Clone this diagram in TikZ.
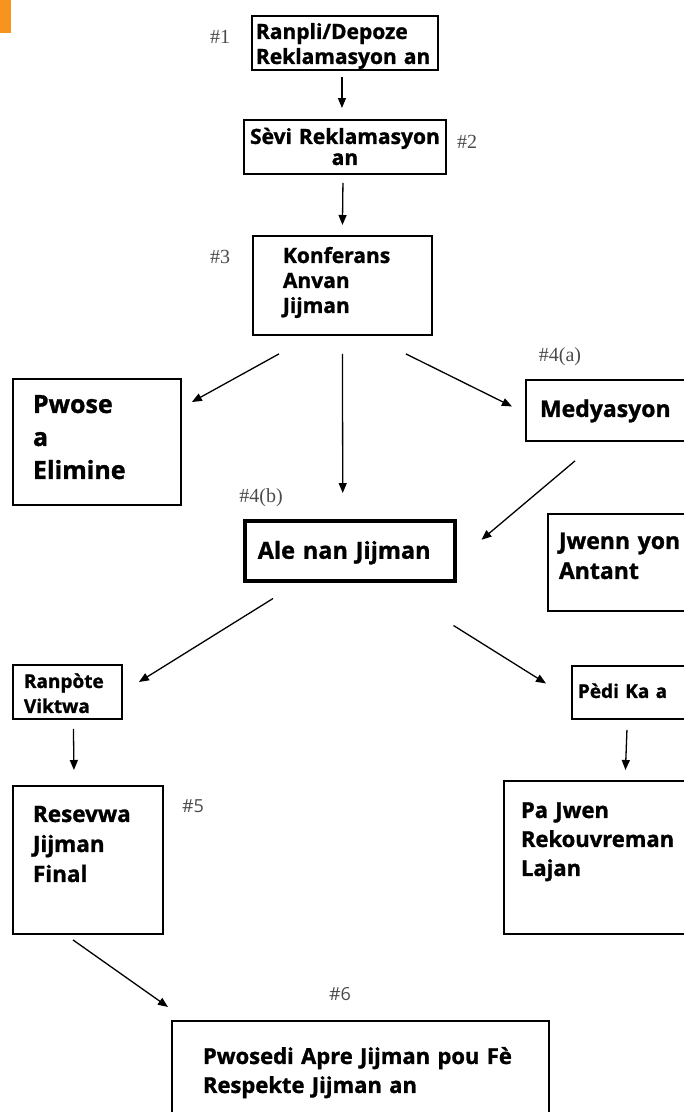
\documentclass[tikz,border=0pt]{standalone}
\usepackage{fontspec}
\setmainfont{Open Sans}[BoldFeatures={FakeBold=1.2}]
\newfontfamily\tagserif{Liberation Serif}
\newfontfamily\tagsans{Open Sans}
\usepackage{tikz}
\usetikzlibrary{positioning,arrows.meta}

\definecolor{tagcol}{RGB}{75,75,75}
\definecolor{cornercol}{RGB}{247,148,30}

\newcommand{\boxfont}[2]{\bfseries\fontsize{#1}{#2}\selectfont}

\tikzset{
  stepbox/.style={draw, line width=1.9pt, rectangle, anchor=north west,
    inner ysep=0pt, align=left},
  tag/.style={text=tagcol, inner sep=0pt, font=\tagserif\fontsize{20}{20}\selectfont},
  tagside/.style={text=tagcol, inner sep=0pt, font=\tagsans\fontsize{18}{18}\selectfont},
  flow/.style={line width=1.3pt, -{Triangle[length=10pt,width=8pt]}},
}

\begin{document}
\begin{tikzpicture}[x=1pt,y=-1pt]
  \useasboundingbox (0,0) rectangle (684,1112);
  \clip (0,0) rectangle (684,1112);

  % angolo
  \fill[cornercol] (0,0) rectangle (11,33);

  % caselle
  \node[stepbox, font=\boxfont{21}{25}, inner xsep=4pt, text width=178pt, text height=23pt, text depth=31pt] (ranpli) at (251,15) {Ranpli/Depoze\\Reklamasyon~an};
  \node[stepbox, font=\boxfont{21}{21}, align=center, inner xsep=3pt, text width=196pt, text height=24pt, text depth=30pt] (sevi) at (243,119) {S\`evi~Reklamasyon\\an};
  \node[stepbox, font=\boxfont{21}{25}, inner xsep=30pt, text width=119pt, text height=27pt, text depth=72pt] (konferans) at (252,235) {Konferans\\Anvan\\Jijman};
  \node[stepbox, font=\boxfont{25}{33}, inner xsep=20pt, text width=128pt, text height=34pt, text depth=92pt] (pwose) at (12,378) {Pwose\\a\\Elimine};
  \node[stepbox, font=\boxfont{23}{28}, inner xsep=14pt, text width=150pt, text height=37pt, text depth=24pt] (medyasyon) at (525,379) {Medyasyon};
  \node[stepbox, font=\boxfont{23}{30}, inner xsep=11pt, text width=130pt, text height=35pt, text depth=62pt] (jwenn) at (547,513) {Jwenn~yon\\Antant};
  \node[stepbox, line width=3.5pt, font=\boxfont{23.5}{28}, inner xsep=13pt, text width=184pt, text height=38pt, text depth=22pt] (ale) at (243,519) {Ale~nan~Jijman};
  \node[stepbox, font=\boxfont{19}{25}, inner xsep=11pt, text width=87pt, text height=23pt, text depth=31pt] (ranpote) at (12,664) {Ranp\`ote\\Viktwa};
  \node[stepbox, font=\boxfont{19}{25}, inner xsep=6pt, text width=120pt, text height=32pt, text depth=21pt] (pedi) at (571,665) {P\`edi~Ka~a};
  \node[stepbox, font=\boxfont{22.5}{30}, inner xsep=20pt, text width=110pt, text height=36pt, text depth=112pt] (resevwa) at (12,785) {Resevwa\\Jijman\\Final};
  \node[stepbox, font=\boxfont{22}{29}, inner xsep=17pt, text width=165pt, text height=37pt, text depth=116pt] (pajwen) at (503,780) {Pa~Jwen\\Rekouvreman\\Lajan};
  \node[stepbox, font=\boxfont{22}{29}, inner xsep=31pt, text width=315pt, text height=43pt, text depth=57pt] (pwosedi) at (171,1020) {Pwosedi~Apre~Jijman~pou~F\`e\\Respekte~Jijman~an};

  % numeri
  \node[tag] (t1) at (220,37) {\#1};
  \node[tag, anchor=west] (t2) at (457,142) {\#2};
  \node[tag] (t3) at (220,257) {\#3};
  \node[tag] (t4a) at (560,357) {\#4(a)};
  \node[tag] (t4b) at (261,498) {\#4(b)};
  \node[tagside] (t5) at (193,806) {\#5};
  \node[tagside] (t6) at (340,994) {\#6};

  % frecce
  \draw[flow] ([xshift=-3pt,yshift=-6pt]ranpli.south) -- ([xshift=-3pt,yshift=11pt]sevi.north);
  \draw[flow] ([xshift=-2pt,yshift=-8pt]sevi.south) -- ([yshift=10pt]konferans.north);
  \draw[flow] ([xshift=27pt,yshift=-18pt]konferans.south west) -- ([xshift=10pt,yshift=-24pt]pwose.north east);
  \draw[flow] ([yshift=-18pt]konferans.south) -- ([xshift=-7pt,yshift=26pt]ale.north);
  \draw[flow] ([xshift=-27pt,yshift=-18pt]konferans.south east) -- ([xshift=-13pt,yshift=4pt]medyasyon.west);
  \draw[flow] ([xshift=50pt,yshift=-19pt]medyasyon.south west) -- ([xshift=25pt,yshift=11pt]ale.east);
  \draw[flow] ([xshift=30pt,yshift=-16pt]ale.south west) -- ([xshift=16pt,yshift=-18pt]ranpote.north east);
  \draw[flow] ([xshift=-3pt,yshift=-43pt]ale.south east) -- ([xshift=-25pt,yshift=9pt]pedi.west);
  \draw[flow] ([xshift=6pt,yshift=-9pt]ranpote.south) -- ([xshift=-14pt,yshift=15pt]resevwa.north);
  \draw[flow] ([xshift=-11pt,yshift=-10pt]pedi.south) -- ([xshift=22pt,yshift=10pt]pajwen.north);
  \draw[flow] ([xshift=-15pt,yshift=-5pt]resevwa.south) -- ([xshift=-3pt,yshift=13pt]pwosedi.north west);
\end{tikzpicture}
\end{document}
